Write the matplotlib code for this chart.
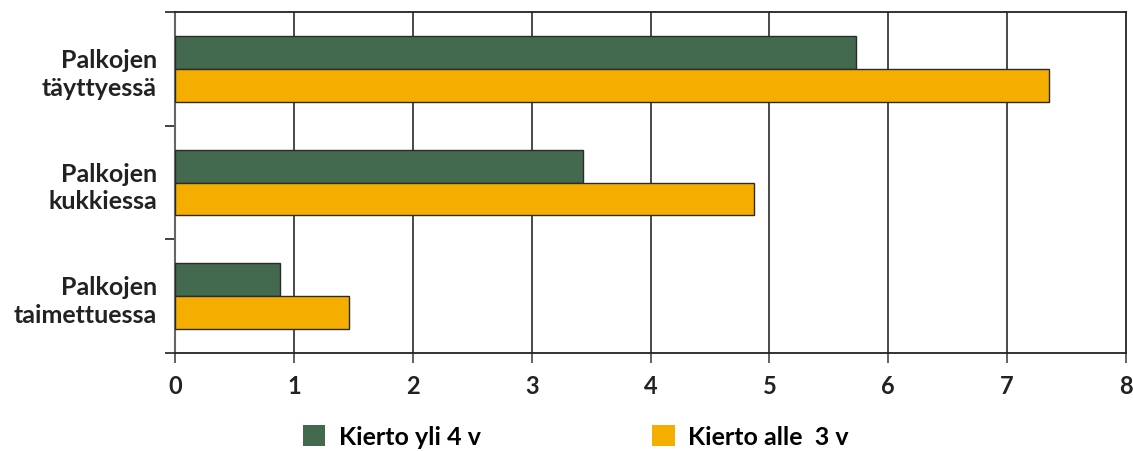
import numpy as np
import matplotlib.pyplot as plt
from matplotlib.patches import Patch

plt.rcParams['font.family'] = ['Lato', 'DejaVu Sans']

categories = ['Palkojen\ntäyttyessä', 'Palkojen\nkukkiessa', 'Palkojen\ntaimettuessa']
yli4 = [5.73, 3.43, 0.88]
alle3 = [7.35, 4.87, 1.46]
series_names = ['Kierto yli 4 v', 'Kierto alle  3 v']
xticks = [0, 1, 2, 3, 4, 5, 6, 7, 8]

green = '#436a4f'
orange = '#f5ae00'

fig = plt.figure(figsize=(11.33, 4.52), dpi=100, facecolor='white')
ax = fig.add_axes([0.1545, 0.2168, 0.8393, 0.7544])

y = np.arange(len(categories))
h = 0.29
ax.barh(y - h / 2, yli4, height=h, color=green, edgecolor='#2b2b2b', linewidth=1.0, zorder=3)
ax.barh(y + h / 2, alle3, height=h, color=orange, edgecolor='#2b2b2b', linewidth=1.0, zorder=3)

ax.set_xlim(0, 8)
ax.set_ylim(2.5, -0.5)

# vertical grid
for v in xticks[1:-1]:
    ax.axvline(v, color='#3a3a3a', linewidth=1.3, zorder=1)

ax.set_xticks(xticks)
ax.set_xticklabels([str(t) for t in xticks], fontsize=17, fontweight='bold', color='#222222')
ax.tick_params(axis='x', direction='out', length=7, width=1.3, color='#555555', pad=8)

# category boundaries as ticks, labels centred between them
ax.set_yticks([-0.5, 0.5, 1.5, 2.5])
ax.set_yticklabels([])
ax.tick_params(axis='y', which='major', direction='out', length=7, width=1.3, color='#333333')
ax.set_yticks(y, minor=True)
ax.set_yticklabels(categories, minor=True, fontsize=18, fontweight='bold', color='#222222',
                   linespacing=1.25)
ax.tick_params(axis='y', which='minor', length=0, pad=13)

for s in ['top', 'right', 'bottom']:
    ax.spines[s].set_color('#222222')
    ax.spines[s].set_linewidth(1.3)
ax.spines['left'].set_color('#666666')
ax.spines['left'].set_linewidth(1.5)

handles = [Patch(facecolor=green, edgecolor='none'), Patch(facecolor=orange, edgecolor='none')]
fig.legend(handles, series_names, loc='center left', bbox_to_anchor=(0.256, 0.031),
           ncol=2, frameon=False, handlelength=0.9, handleheight=0.9, handletextpad=0.55,
           columnspacing=6.85, borderpad=0, prop={'size': 18, 'weight': 'bold'})

fig.savefig('out.png', dpi=100, facecolor='white')
